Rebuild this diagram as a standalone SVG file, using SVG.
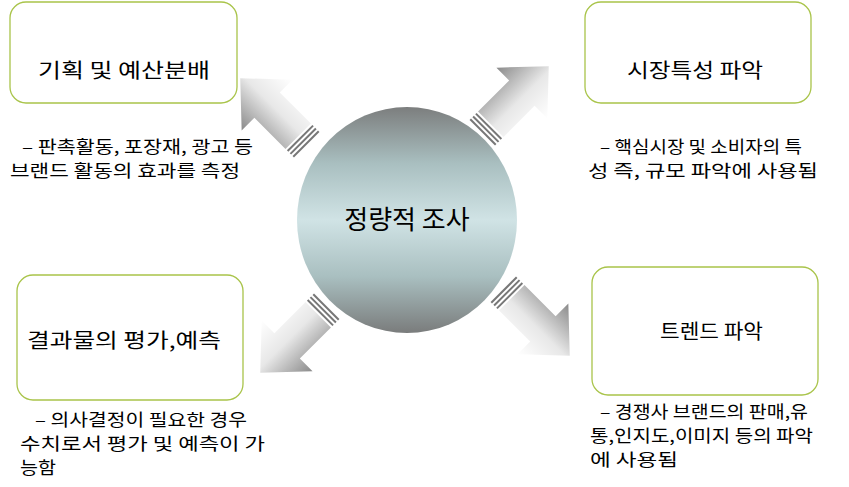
<svg xmlns="http://www.w3.org/2000/svg" width="849" height="487" viewBox="0 0 849 487">
<defs>
<style>
.box{fill:#fff;stroke:#a9c44a;stroke-width:1.3}
.t{font-family:"Noto Sans CJK KR","Noto Sans",sans-serif;fill:#000}
.title{font-size:20px}
.note{font-size:17px}
.st{stroke:#777;stroke-width:2}
</style>
<linearGradient id="circ" x1="0" y1="0" x2="0" y2="1">
<stop offset="0" stop-color="#7c7e7e"/><stop offset="0.25" stop-color="#a9bfc0"/>
<stop offset="0.5" stop-color="#d0e3e5"/><stop offset="0.75" stop-color="#a9bfc0"/>
<stop offset="1" stop-color="#7a7c7c"/>
</linearGradient>
<linearGradient id="ag" x1="0" y1="0" x2="0" y2="1">
<stop offset="0" stop-color="#8a8a8a"/><stop offset="0.55" stop-color="#e8e8e8"/><stop offset="1" stop-color="#ffffff"/>
</linearGradient>
<g id="arrow">
<line class="st" x1="0" y1="-18" x2="0" y2="18"/>
<line class="st" x1="4" y1="-18" x2="4" y2="18"/>
<line class="st" x1="8" y1="-18" x2="8" y2="18"/>
<path d="M11,-18 H55 V-36 L93,0 L55,36 V18 H11 Z" fill="url(#ag)"/>
</g>
</defs>
<g id="connectors">
<use href="#arrow" transform="translate(306,144) rotate(-135)"/>
<use href="#arrow" transform="translate(483,132) rotate(-45)"/>
<use href="#arrow" transform="translate(326,307) rotate(135)"/>
<use href="#arrow" transform="translate(504,290) rotate(45)"/>
</g>
<g id="center">
<ellipse cx="407" cy="220" rx="110" ry="113" fill="url(#circ)"/>
<text class="t" x="407" y="229" font-size="26" text-anchor="middle">정량적 조사</text>
</g>
<g id="n1">
<rect class="box" x="10" y="2" width="227" height="101" rx="16"/>
<text class="t title" x="38" y="78" textLength="172" lengthAdjust="spacingAndGlyphs">기획 및 예산분배</text>
<text class="t note" x="22" y="153" textLength="231" lengthAdjust="spacingAndGlyphs">– 판촉활동, 포장재, 광고 등</text>
<text class="t note" x="10" y="177" textLength="230" lengthAdjust="spacingAndGlyphs">브랜드 활동의 효과를 측정</text>
</g>
<g id="n2">
<rect class="box" x="585" y="2" width="226" height="101" rx="16"/>
<text class="t title" x="627" y="78" textLength="136" lengthAdjust="spacingAndGlyphs">시장특성 파악</text>
<text class="t note" x="600" y="153" textLength="202" lengthAdjust="spacingAndGlyphs">– 핵심시장 및 소비자의 특</text>
<text class="t note" x="588" y="177" textLength="230" lengthAdjust="spacingAndGlyphs">성 즉, 규모 파악에 사용됨</text>
</g>
<g id="n3">
<rect class="box" x="17" y="275" width="226" height="125" rx="16"/>
<text class="t title" x="27" y="348" textLength="194" lengthAdjust="spacingAndGlyphs">결과물의 평가,예측</text>
<text class="t note" x="35" y="426" textLength="212" lengthAdjust="spacingAndGlyphs">– 의사결정이 필요한 경우</text>
<text class="t note" x="20" y="450" textLength="245" lengthAdjust="spacingAndGlyphs">수치로서 평가 및 예측이 가</text>
<text class="t note" x="20" y="474" textLength="36" lengthAdjust="spacingAndGlyphs">능함</text>
</g>
<g id="n4">
<rect class="box" x="592" y="267" width="226" height="128" rx="16"/>
<text class="t title" x="660" y="339" textLength="103" lengthAdjust="spacingAndGlyphs">트렌드 파악</text>
<text class="t note" x="600" y="418" textLength="208" lengthAdjust="spacingAndGlyphs">– 경쟁사 브랜드의 판매,유</text>
<text class="t note" x="590" y="442" textLength="223" lengthAdjust="spacingAndGlyphs">통,인지도,이미지 등의 파악</text>
<text class="t note" x="590" y="466" textLength="88" lengthAdjust="spacingAndGlyphs">에 사용됨</text>
</g>
</svg>
